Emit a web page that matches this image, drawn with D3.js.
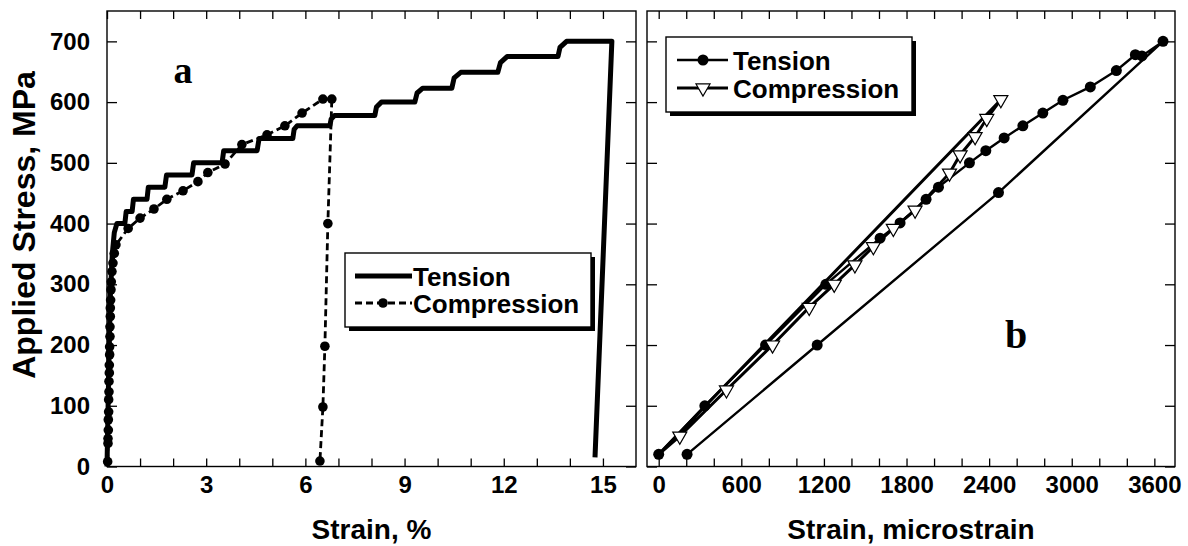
<!DOCTYPE html>
<meta charset="utf-8">
<style>
body { margin: 0; background: #fff; }
svg text { font-family: "Liberation Sans", Arial, sans-serif; font-weight: bold; fill: #000; }
.frame { fill: none; stroke: #000; stroke-width: 1.4; }
.tick line { stroke: #000; stroke-width: 1.3; }
.panel-label { font-family: "Liberation Serif", "Times New Roman", serif !important; }
</style>

<svg width="1188" height="546"></svg>

<script src="https://d3js.org/d3.v7.min.js"></script>
<script>

// panel a : strain (%) , stress (MPa)
var tensionA = [
  [0, 0], [0.05, 150], [0.1, 280], [0.16, 350], [0.22, 385], [0.3, 400],
  [0.54, 400], [0.58, 420], [0.76, 420], [0.8, 440], [1.21, 440], [1.25, 460],
  [1.75, 460], [1.8, 480], [2.57, 480], [2.62, 500], [3.48, 500], [3.53, 520],
  [4.54, 520], [4.6, 540], [5.62, 540], [5.66, 555], [5.75, 561], [6.74, 561],
  [6.78, 572], [6.88, 578], [8.1, 578], [8.15, 592], [8.3, 600], [9.31, 600],
  [9.38, 615], [9.55, 623], [10.43, 623], [10.5, 640], [10.7, 649], [11.82, 649],
  [11.9, 665], [12.1, 675], [13.64, 675], [13.7, 690], [13.9, 700], [15.27, 700],
  [14.76, 15]
];

var compressionA = [
  [0.02, 8], [0.03, 38], [0.03, 46], [0.04, 60], [0.04, 77], [0.05, 90],
  [0.05, 110], [0.06, 123], [0.06, 140], [0.07, 154], [0.07, 167], [0.08, 184],
  [0.08, 197], [0.09, 214], [0.09, 230], [0.1, 247], [0.1, 261], [0.11, 274],
  [0.12, 291], [0.13, 304], [0.15, 321], [0.18, 335], [0.22, 351], [0.27, 365],
  [0.64, 392], [1.0, 409], [1.42, 424], [1.81, 440], [2.3, 454], [2.75, 469],
  [3.05, 484], [3.57, 498], [4.08, 530], [4.84, 546], [5.38, 561], [5.9, 582],
  [6.53, 605], [6.8, 605], [6.68, 400], [6.59, 198], [6.53, 98], [6.44, 9]
];

// panel b : strain (microstrain) , stress (MPa)
var tensionB = [
  [0, 20], [335, 100], [776, 200], [1214, 300], [1608, 376], [1753, 401],
  [1942, 440], [2032, 460], [2257, 500], [2376, 520], [2509, 541], [2645, 561],
  [2790, 582], [2936, 603], [3135, 625], [3324, 652], [3462, 678], [3510, 676],
  [3663, 700], [2468, 451], [1151, 200], [206, 20]
];

var compressionB = [
  [0, 20], [153, 50], [492, 126], [827, 200], [1093, 262], [1275, 300],
  [1425, 332], [1559, 362], [1704, 392], [1862, 422], [2112, 483], [2189, 513],
  [2298, 543], [2383, 573], [2485, 604], [0, 20]
];

var stressTicks = [0, 100, 200, 300, 400, 500, 600, 700];
var strainTicksA = [0, 3, 6, 9, 12, 15];
var strainTicksB = [0, 600, 1200, 1800, 2400, 3000, 3600];

var svg = d3.select("svg");

var y = d3.scaleLinear().domain([0, 750]).range([466.5, 11]);
var xA = d3.scaleLinear().domain([0, 16]).range([107, 636]);
var xB = d3.scaleLinear().domain([-85, 3750]).range([647, 1175]);

function frame(x) {
  var r = x.range();
  svg.append("rect")
    .attr("class", "frame")
    .attr("x", r[0]).attr("y", y.range()[1])
    .attr("width", r[1] - r[0])
    .attr("height", y.range()[0] - y.range()[1]);
}

function axes(x, minorStep, labels, yLabels) {
  var r = x.range();
  var minor = d3.range(0, x.domain()[1], minorStep);

  var bottom = svg.append("g")
    .attr("transform", "translate(0," + y.range()[0] + ")")
    .call(d3.axisBottom(x).tickValues(minor).tickSize(-8).tickPadding(9)
      .tickFormat(function(d) { return labels.indexOf(d) >= 0 ? d : ""; }));
  bottom.selectAll("text").style("font-size", "24px");

  svg.append("g")
    .attr("transform", "translate(0," + y.range()[1] + ")")
    .call(d3.axisTop(x).tickValues(minor).tickSize(-8).tickFormat(""));

  var left = svg.append("g")
    .attr("transform", "translate(" + r[0] + ",0)")
    .call(d3.axisLeft(y).tickValues(stressTicks).tickSize(-10).tickPadding(17)
      .tickFormat(yLabels ? null : ""));
  left.selectAll("text").style("font-size", "24px");

  svg.append("g")
    .attr("transform", "translate(" + r[1] + ",0)")
    .call(d3.axisRight(y).tickValues(stressTicks).tickSize(-10).tickFormat(""));

  svg.selectAll(".domain").remove();
}

frame(xA);
frame(xB);
axes(xA, 1, strainTicksA, true);
axes(xB, 200, strainTicksB, false);

// panel a curves
var lineA = d3.line()
  .x(function(d) { return xA(d[0]); })
  .y(function(d) { return y(d[1]); });

svg.append("path")
  .datum(compressionA)
  .attr("d", lineA)
  .attr("fill", "none")
  .attr("stroke", "#000")
  .attr("stroke-width", 2.8)
  .attr("stroke-dasharray", "7,4");

svg.append("g").selectAll("circle")
  .data(compressionA)
  .enter().append("circle")
  .attr("cx", function(d) { return xA(d[0]); })
  .attr("cy", function(d) { return y(d[1]); })
  .attr("r", 4.8)
  .attr("fill", "#000");

svg.append("path")
  .datum(tensionA)
  .attr("d", lineA)
  .attr("fill", "none")
  .attr("stroke", "#000")
  .attr("stroke-width", 5)
  .attr("stroke-linejoin", "round");

// panel b curves
var lineB = d3.line()
  .x(function(d) { return xB(d[0]); })
  .y(function(d) { return y(d[1]); });

svg.append("path")
  .datum(tensionB)
  .attr("d", lineB)
  .attr("fill", "none")
  .attr("stroke", "#000")
  .attr("stroke-width", 2.4);

svg.append("g").selectAll("circle")
  .data(tensionB)
  .enter().append("circle")
  .attr("cx", function(d) { return xB(d[0]); })
  .attr("cy", function(d) { return y(d[1]); })
  .attr("r", 5.5)
  .attr("fill", "#000");

svg.append("path")
  .datum(compressionB)
  .attr("d", lineB)
  .attr("fill", "none")
  .attr("stroke", "#000")
  .attr("stroke-width", 3);

var tri = d3.symbol().type(d3.symbolTriangle).size(85);

svg.append("g").selectAll("path")
  .data(compressionB.slice(1, compressionB.length - 1))
  .enter().append("path")
  .attr("d", tri)
  .attr("transform", function(d) {
    return "translate(" + xB(d[0]) + "," + y(d[1]) + ") rotate(180)";
  })
  .attr("fill", "#fff")
  .attr("stroke", "#000")
  .attr("stroke-width", 1.2);

// legends
function legendBox(x0, y0, w, h) {
  svg.append("rect").attr("x", x0 + 4).attr("y", y0 + 4)
    .attr("width", w).attr("height", h).attr("fill", "#000");
  svg.append("rect").attr("x", x0).attr("y", y0)
    .attr("width", w).attr("height", h)
    .attr("fill", "#fff").attr("stroke", "#000").attr("stroke-width", 1.4);
}

legendBox(345, 253, 246, 74);
svg.append("line").attr("x1", 355).attr("x2", 412).attr("y1", 276).attr("y2", 276)
  .attr("stroke", "#000").attr("stroke-width", 5);
svg.append("line").attr("x1", 355).attr("x2", 412).attr("y1", 303).attr("y2", 303)
  .attr("stroke", "#000").attr("stroke-width", 2.8).attr("stroke-dasharray", "7,4");
svg.append("circle").attr("cx", 383).attr("cy", 303).attr("r", 4.8).attr("fill", "#000");
svg.append("text").attr("x", 413).attr("y", 286).style("font-size", "26px").text("Tension");
svg.append("text").attr("x", 413).attr("y", 313).style("font-size", "26px").text("Compression");

legendBox(666, 37, 246, 75);
svg.append("line").attr("x1", 677).attr("x2", 728).attr("y1", 60).attr("y2", 60)
  .attr("stroke", "#000").attr("stroke-width", 2.4);
svg.append("circle").attr("cx", 703).attr("cy", 60).attr("r", 5.5).attr("fill", "#000");
svg.append("line").attr("x1", 677).attr("x2", 728).attr("y1", 88).attr("y2", 88)
  .attr("stroke", "#000").attr("stroke-width", 3);
svg.append("path").attr("d", tri)
  .attr("transform", "translate(703,88) rotate(180)")
  .attr("fill", "#fff").attr("stroke", "#000").attr("stroke-width", 1.2);
svg.append("text").attr("x", 733).attr("y", 70).style("font-size", "26px").text("Tension");
svg.append("text").attr("x", 733).attr("y", 98).style("font-size", "26px").text("Compression");

// titles
svg.append("text")
  .attr("transform", "translate(35,225) rotate(-90)")
  .attr("text-anchor", "middle")
  .style("font-size", "32px")
  .text("Applied Stress, MPa");

svg.append("text")
  .attr("x", (xA.range()[0] + xA.range()[1]) / 2).attr("y", 539)
  .attr("text-anchor", "middle")
  .style("font-size", "28px")
  .text("Strain, %");

svg.append("text")
  .attr("x", (xB.range()[0] + xB.range()[1]) / 2).attr("y", 539)
  .attr("text-anchor", "middle")
  .style("font-size", "28px")
  .text("Strain, microstrain");

svg.append("text")
  .attr("class", "panel-label")
  .attr("x", 183).attr("y", 83)
  .attr("text-anchor", "middle")
  .style("font-size", "38px")
  .text("a");

svg.append("text")
  .attr("class", "panel-label")
  .attr("x", 1016).attr("y", 348)
  .attr("text-anchor", "middle")
  .style("font-size", "40px")
  .text("b");

</script>
